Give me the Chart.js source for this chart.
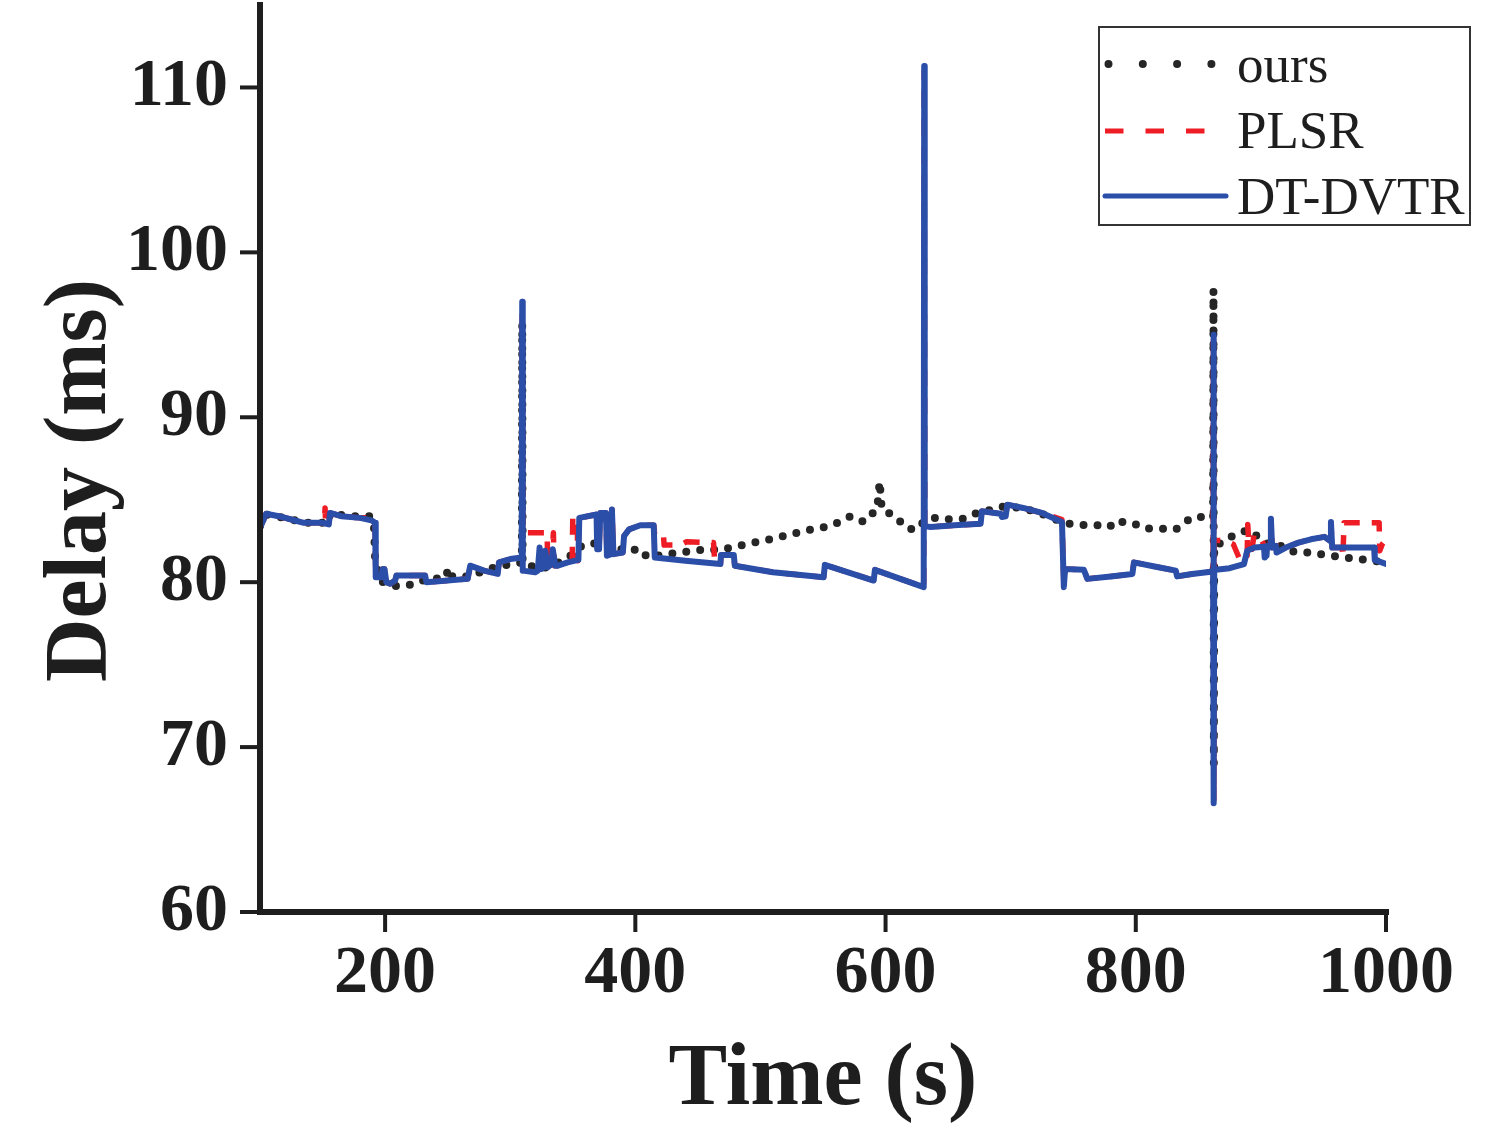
<!DOCTYPE html>
<html>
<head>
<meta charset="utf-8">
<script src="https://cdn.jsdelivr.net/npm/chart.js@4.4.1/dist/chart.umd.min.js"></script>
<style>
html,body{margin:0;padding:0;background:#ffffff;}
#wrap{width:1500px;height:1125px;}
</style>
</head>
<body>
<div id="wrap"><canvas id="c" width="1500" height="1125"></canvas></div>
<script>
// ---- data ----
const seriesNames = ['ours', 'PLSR', 'DT-DVTR'];
const xTickValues = [200, 400, 600, 800, 1000];
const yTickValues = [60, 70, 80, 90, 100, 110];
const xTitle = 'Time (s)';
const yTitle = 'Delay (ms)';

const oursX = [100,105,120,135,150,155,156,170,188,191,
  192,196,203,210.7,220.8,229.3,240,249,250,251,
  258.7,266.7,282.7,294.7,302.7,309.3,309.6,309.9,316,321.3,
  326.7,335,342.7,350,356,362,372,385,394.7,402.7,
  409.9,425.3,441.3,452,468,482.7,494.7,508,524,537.3,
  549.3,560,572,582.7,593.3,595.3,597,606.7,617.3,625.3,
  630.7,640,653.3,662.7,674.7,680,697,720,741,745.3,
  760,770.7,777.3,782.7,789.3,797.3,806.7,818.7,832,838.7,
  845.3,852,861.8,862.1,862.4,862.7,868,876,884,892,
  897.3,905.3,913.3,920,926.7,933.3,941.3,950.7,966.7,982.7,
  998.7,1000];
const oursY = [83.4,84.1,83.9,83.6,83.6,83.6,84.2,84.0,84.0,83.6,
  81.4,80.1,79.8,79.75,79.85,80.1,80.2,80.3,80.8,80.4,
  80.3,80.35,80.8,81.0,81.13,81.2,95.7,81.2,81.0,80.83,
  80.85,81.1,81.3,81.7,82.14,82.35,82.35,82.1,81.85,82.05,
  81.5,81.7,81.85,81.95,81.97,82.2,82.4,82.6,82.9,83.15,
  83.3,83.55,84.0,83.65,84.45,86.1,84.4,84.05,83.25,83.2,
  83.7,83.9,83.8,83.85,84.25,84.3,84.65,84.3,83.65,83.55,
  83.45,83.45,83.55,83.3,83.65,83.6,83.25,83.25,83.2,83.6,
  83.95,83.95,83.9,97.7,69.0,82.3,82.35,82.75,83.05,83.15,
  82.75,82.35,82.35,81.95,81.85,81.8,81.8,81.65,81.5,81.37,
  81.2,81.15];

const plsrX = [100,105,115,125,135,150,151.5,152,152.5,155,
  156,165,180,189,192,192.5,197,198,199.5,201,
  204,208,209,232,233,250,266,268,279,290,
  291,300,309.2,309.6,310,329.5,330,333,334.5,335.2,
  338,346,349.5,350,353.5,354,355.2,369,369.5,371,
  372,376.5,377.3,380.5,381.3,382.5,390,391,395,404,
  414.7,415.5,422.5,423,436,441,462.5,463.5,468,468.5,
  478.7,479.5,510,550.5,551.5,590.5,591.5,630.5,630.9,631.3,
  636,655,676,677,692,696,697.3,710,725,741,
  742.5,743.5,758.5,761.3,780,797.3,798.5,815,832,833,
  845,861.8,862.1,862.4,862.7,872,878,883.5,889,889.5,
  890.5,893,894.5,900,903,905,907.5,908,909,912,
  920,930,940,950.7,955.5,956,957,965,965.5,966.5,
  994.5,995,997,1000];
const plsrY = [83.3,84.15,84.0,83.8,83.6,83.6,83.6,84.5,83.6,83.5,
  84.2,84.0,83.9,83.9,83.7,80.3,80.3,80.8,80.8,80.0,
  79.9,80.1,80.4,80.4,80.0,80.1,80.2,81.0,80.7,80.5,
  81.2,81.4,81.5,96.5,83.0,83.0,80.9,81.1,83.0,81.0,
  81.0,81.2,81.3,83.9,83.9,81.3,83.9,84.1,82.0,82.0,
  84.2,84.2,81.6,81.7,84.4,81.7,81.8,82.8,83.2,83.45,
  83.45,82.85,82.85,82.25,82.25,82.45,82.4,81.15,81.1,81.65,
  81.65,81.0,80.6,80.3,81.05,80.1,80.75,79.7,111.0,83.4,
  83.35,83.45,83.55,84.3,84.15,84.0,84.7,84.5,84.2,83.8,
  79.9,80.8,80.75,80.2,80.35,80.5,81.2,80.95,80.7,80.35,
  80.5,80.65,94.8,66.8,82.55,82.5,82.3,81.3,81.6,83.5,
  82.1,82.0,82.9,82.6,82.2,82.2,82.2,83.8,82.1,82.2,
  82.1,82.4,82.6,82.75,82.5,83.6,82.1,82.1,81.5,83.6,
  83.6,81.9,82.3,82.6];

const dtX = [100,105,115,125,135,150,155,156,165,180,
  189,192,192.5,197,198,199.5,201,204,208,209,
  232,233,250,266,268,279,290,291,300,309.2,
  309.6,310,320,322,323.5,325,327,328,330,333,
  334,336,338,346,354.5,355.2,369,369.5,371,372,
  376.5,377.3,380.5,381.3,382.5,390,391,395,404,414.7,
  415.5,440,468,468.5,478.7,479.5,510,550.5,551.5,590.5,
  591.5,630.5,630.9,631.3,636,655,676,677,692,693,
  696,697.3,710,725,741,742.5,743.5,758.5,761.3,780,
  797.3,798.5,815,832,833,845,861.8,862.1,862.4,862.7,
  864,875,886.5,889,895,902.5,903,904.5,905,907.5,
  908,909,912,912.5,920,930,940,950.7,955.5,956,
  957,990.5,991,1000];
const dtY = [83.3,84.15,84.0,83.8,83.6,83.6,83.5,84.2,84.0,83.9,
  83.75,83.6,80.3,80.3,80.8,80.8,80.0,79.9,80.1,80.4,
  80.4,80.0,80.1,80.2,81.0,80.7,80.5,81.2,81.4,81.5,
  97.0,80.7,80.6,80.7,82.1,80.8,80.9,81.9,80.9,81.1,
  82.0,81.0,81.0,81.2,81.35,83.9,84.1,82.0,82.0,84.2,
  84.2,81.6,81.7,84.4,81.7,81.8,82.8,83.2,83.45,83.45,
  81.5,81.3,81.1,81.65,81.65,81.0,80.6,80.3,81.05,80.1,
  80.75,79.7,111.3,83.4,83.35,83.45,83.55,84.3,84.15,83.95,
  84.0,84.7,84.5,84.2,83.65,79.7,80.8,80.75,80.2,80.35,
  80.5,81.2,80.95,80.7,80.35,80.5,80.65,95.0,66.6,80.65,
  80.75,80.85,81.1,81.9,82.1,82.15,81.5,81.6,82.2,82.2,
  83.85,82.1,82.2,81.8,82.1,82.4,82.6,82.75,82.5,83.65,
  82.1,82.1,81.35,81.1];

// ---- helpers ----
const toPts = (xs, ys) => xs.map((x, i) => ({x: x, y: ys[i]}));
const SERIF = "'Liberation Serif', 'Times New Roman', serif";
const INK = '#1e1e1e';

// axes: lines and outward major/minor ticks, placed by the library's scales
const axisPlugin = {
  id: 'axisPlugin',
  afterDraw(chart) {
    const {ctx, chartArea} = chart;
    const {left, right, top, bottom} = chartArea;
    const xs = chart.scales.x, ys = chart.scales.y;
    ctx.save();
    ctx.strokeStyle = INK;
    ctx.lineCap = 'butt';
    ctx.lineWidth = 4;
    xs.ticks.forEach(t => {
      const p = xs.getPixelForValue(t.value);
      const len = xTickValues.includes(t.value) ? 20 : 12;
      ctx.beginPath(); ctx.moveTo(p, bottom); ctx.lineTo(p, bottom + len); ctx.stroke();
    });
    ys.ticks.forEach(t => {
      const p = ys.getPixelForValue(t.value);
      const len = yTickValues.includes(t.value) ? 20 : 12;
      ctx.beginPath(); ctx.moveTo(left, p); ctx.lineTo(left - len, p); ctx.stroke();
    });
    ctx.lineWidth = 6;
    ctx.lineCap = 'square';
    ctx.beginPath();
    ctx.moveTo(left, top);
    ctx.lineTo(left, bottom);
    ctx.lineTo(right, bottom);
    ctx.stroke();
    ctx.restore();
  }
};

// boxed legend in the top right corner
const legendPlugin = {
  id: 'boxLegend',
  afterDraw(chart) {
    const ctx = chart.ctx;
    const ds = chart.data.datasets;
    ctx.save();
    ctx.strokeStyle = '#333333';
    ctx.lineWidth = 2;
    ctx.setLineDash([]);
    ctx.strokeRect(1099, 27, 371, 198);
    const rows = [64, 131, 196];
    const samples = [
      {x0: 1108.5, x1: 1212, dash: [0, 34.3], width: 8, cap: 'round'},
      {x0: 1105, x1: 1205, dash: [18.5, 22], width: 5, cap: 'butt'},
      {x0: 1105, x1: 1226, dash: [], width: 5, cap: 'round'}
    ];
    const baselines = [82, 148, 214];
    for (let i = 0; i < ds.length; i++) {
      const s = samples[i];
      ctx.strokeStyle = ds[i].borderColor;
      ctx.lineWidth = s.width;
      ctx.lineCap = s.cap;
      ctx.setLineDash(s.dash);
      ctx.beginPath();
      ctx.moveTo(s.x0, rows[i]);
      ctx.lineTo(s.x1, rows[i]);
      ctx.stroke();
      ctx.setLineDash([]);
      ctx.fillStyle = INK;
      ctx.font = '53px ' + SERIF;
      ctx.textAlign = 'left';
      ctx.textBaseline = 'alphabetic';
      ctx.fillText(ds[i].label, 1237, baselines[i]);
    }
    ctx.restore();
  }
};

const tickFont = {family: SERIF, weight: 'bold', size: 68, lineHeight: 1.2};
const titleFont = {family: SERIF, weight: 'bold', size: 88, lineHeight: 1};

new Chart(document.getElementById('c'), {
  type: 'line',
  data: {
    datasets: [
      {label: seriesNames[0], data: toPts(oursX, oursY), borderColor: '#262626',
       borderWidth: 8, borderDash: [0, 14], borderCapStyle: 'round', borderJoinStyle: 'round',
       pointRadius: 0, tension: 0, fill: false, order: 3},
      {label: seriesNames[1], data: toPts(plsrX, plsrY), borderColor: '#ee1c25',
       borderWidth: 5.5, borderDash: [16, 12], borderCapStyle: 'butt', borderJoinStyle: 'round',
       pointRadius: 0, tension: 0, fill: false, order: 2},
      {label: seriesNames[2], data: toPts(dtX, dtY), borderColor: '#2b4ea8',
       borderWidth: 6, borderJoinStyle: 'round', borderCapStyle: 'round',
       pointRadius: 0, tension: 0, fill: false, order: 1}
    ]
  },
  options: {
    responsive: false,
    animation: false,
    devicePixelRatio: 1,
    layout: {padding: {left: 0, right: 114, top: 5, bottom: 0}},
    plugins: {legend: {display: false}, tooltip: {enabled: false}},
    scales: {
      x: {
        type: 'linear', min: 100, max: 1000,
        grid: {display: false, drawTicks: false},
        border: {display: false},
        ticks: {stepSize: 100, autoSkip: false, maxRotation: 0, minRotation: 0, padding: 22,
                font: tickFont, color: INK,
                callback: v => xTickValues.includes(v) ? String(v) : null},
        title: {display: true, text: xTitle, font: titleFont, color: INK, padding: {top: 11, bottom: 0}},
        afterFit: s => { s.height = 213; s.paddingLeft = 0; s.paddingRight = 0; }
      },
      y: {
        type: 'linear', min: 60, max: 115,
        grid: {display: false, drawTicks: false},
        border: {display: false},
        ticks: {stepSize: 5, autoSkip: false, padding: 32,
                font: tickFont, color: INK,
                callback: v => yTickValues.includes(v) ? String(v) : null},
        title: {display: true, text: yTitle + '  ', font: titleFont, color: INK, padding: {top: 38, bottom: 0}},
        afterFit: s => { s.width = 260; s.paddingTop = 0; s.paddingBottom = 0; }
      }
    }
  },
  plugins: [axisPlugin, legendPlugin]
});
</script>
</body>
</html>
